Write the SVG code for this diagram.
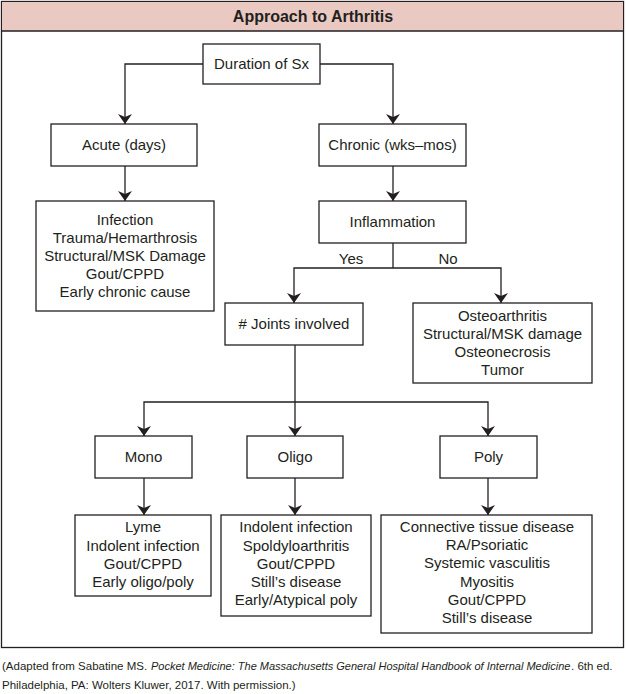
<svg xmlns="http://www.w3.org/2000/svg" width="626" height="694" viewBox="0 0 626 694">
<style>
.box{fill:#fff;stroke:#231f20;stroke-width:1.3}
.t{font-family:"Liberation Sans",Arial,sans-serif;font-size:15px;fill:#231f20;text-anchor:middle}
.ln{fill:none;stroke:#231f20;stroke-width:1.3}
.ft{font-family:"Liberation Sans",Arial,sans-serif;font-size:11.5px;fill:#231f20}
.fi{font-family:"Liberation Sans",Arial,sans-serif;font-size:11px;font-style:italic;fill:#231f20}
</style>
<defs>
<marker id="ar" markerWidth="10" markerHeight="14" refX="10" refY="7" orient="auto" markerUnits="userSpaceOnUse" viewBox="0 0 10 14">
<path d="M0,0 L10,7 L0,14 L3,7 z" fill="#231f20"/>
</marker>
</defs>
<rect x="0" y="0" width="626" height="694" fill="#fff"/>
<g id="frame">
<rect x="1.5" y="1.5" width="622" height="646" fill="#fff" stroke="#231f20" stroke-width="1.3"/>
<rect x="2" y="2" width="621" height="29" fill="#e9c9c1"/>
<line x1="1.5" y1="31" x2="623.5" y2="31" stroke="#231f20" stroke-width="1.3"/>
<text x="313" y="22" font-family="'Liberation Sans',Arial,sans-serif" font-size="16" font-weight="bold" fill="#231f20" text-anchor="middle">Approach to Arthritis</text>
</g>
<g id="connectors">
<path class="ln" d="M203,64 H125 V124" marker-end="url(#ar)"/>
<path class="ln" d="M320,64 H393 V124" marker-end="url(#ar)"/>
<path class="ln" d="M125,166 V201" marker-end="url(#ar)"/>
<path class="ln" d="M393,166 V201" marker-end="url(#ar)"/>
<path class="ln" d="M393,243 V268"/>
<path class="ln" d="M393,268 H294 V303" marker-end="url(#ar)"/>
<path class="ln" d="M393,268 H501 V303" marker-end="url(#ar)"/>
<path class="ln" d="M295,345 V436" marker-end="url(#ar)"/>
<path class="ln" d="M295,402 H144 V436" marker-end="url(#ar)"/>
<path class="ln" d="M295,402 H488 V436" marker-end="url(#ar)"/>
<path class="ln" d="M144,478 V515" marker-end="url(#ar)"/>
<path class="ln" d="M295,478 V515" marker-end="url(#ar)"/>
<path class="ln" d="M488,478 V515" marker-end="url(#ar)"/>
<text class="t" x="351" y="264">Yes</text>
<text class="t" x="448" y="264">No</text>
</g>
<g id="duration"><rect class="box" x="203" y="44" width="117" height="40"/><text class="t" x="261.5" y="69">Duration of Sx</text></g>
<g id="acute"><rect class="box" x="51" y="124" width="146" height="42"/><text class="t" x="124" y="150">Acute (days)</text></g>
<g id="chronic"><rect class="box" x="319" y="124" width="147" height="42"/><text class="t" x="392.5" y="150">Chronic (wks–mos)</text></g>
<g id="acute-causes"><rect class="box" x="36" y="201" width="178" height="110"/>
<text class="t" x="125" y="225">Infection</text>
<text class="t" x="125" y="243">Trauma/Hemarthrosis</text>
<text class="t" x="125" y="261">Structural/MSK Damage</text>
<text class="t" x="125" y="279">Gout/CPPD</text>
<text class="t" x="125" y="297">Early chronic cause</text></g>
<g id="inflammation"><rect class="box" x="319" y="201" width="147" height="42"/><text class="t" x="392.5" y="227">Inflammation</text></g>
<g id="joints"><rect class="box" x="225" y="303" width="138" height="42"/><text class="t" x="294" y="329"># Joints involved</text></g>
<g id="noninflam"><rect class="box" x="413" y="303" width="179" height="80"/>
<text class="t" x="502.5" y="321">Osteoarthritis</text>
<text class="t" x="502.5" y="339">Structural/MSK damage</text>
<text class="t" x="502.5" y="357">Osteonecrosis</text>
<text class="t" x="502.5" y="375">Tumor</text></g>
<g id="mono"><rect class="box" x="95" y="436" width="97" height="42"/><text class="t" x="143.5" y="462">Mono</text></g>
<g id="oligo"><rect class="box" x="247" y="436" width="96" height="42"/><text class="t" x="295" y="462">Oligo</text></g>
<g id="poly"><rect class="box" x="440" y="436" width="97" height="42"/><text class="t" x="488.5" y="462">Poly</text></g>
<g id="mono-causes"><rect class="box" x="75" y="515" width="136" height="81"/>
<text class="t" x="143" y="532">Lyme</text>
<text class="t" x="143" y="551">Indolent infection</text>
<text class="t" x="143" y="569">Gout/CPPD</text>
<text class="t" x="143" y="587">Early oligo/poly</text></g>
<g id="oligo-causes"><rect class="box" x="221" y="515" width="150" height="101"/>
<text class="t" x="296" y="532">Indolent infection</text>
<text class="t" x="296" y="551">Spoldyloarthritis</text>
<text class="t" x="296" y="569">Gout/CPPD</text>
<text class="t" x="296" y="587">Still’s disease</text>
<text class="t" x="296" y="605">Early/Atypical poly</text></g>
<g id="poly-causes"><rect class="box" x="381" y="515" width="211" height="118"/>
<text class="t" x="487" y="532">Connective tissue disease</text>
<text class="t" x="487" y="550">RA/Psoriatic</text>
<text class="t" x="487" y="568">Systemic vasculitis</text>
<text class="t" x="487" y="587">Myositis</text>
<text class="t" x="487" y="605">Gout/CPPD</text>
<text class="t" x="487" y="623">Still’s disease</text></g>
<g id="footer">
<text class="ft" x="2" y="670">(Adapted from Sabatine MS.</text>
<text class="fi" x="151" y="670">Pocket Medicine: The Massachusetts General Hospital Handbook of Internal Medicine</text>
<text class="ft" x="571" y="670">. 6th ed.</text>
<text class="ft" x="2" y="689">Philadelphia, PA: Wolters Kluwer, 2017. With permission.)</text>
</g>
</svg>
